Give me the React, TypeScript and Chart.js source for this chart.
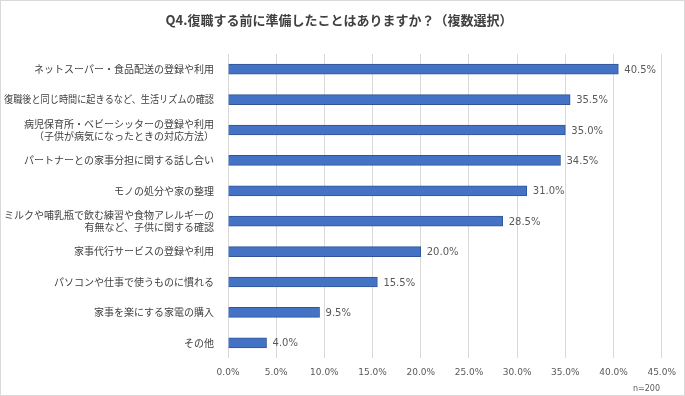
import React, { useEffect, useRef } from "react";
import { Chart, registerables } from "chart.js";

Chart.register(...registerables);

const TITLE = "Q4.復職する前に準備したことはありますか？（複数選択）";
const NOTE = "n=200";

const categories: (string | string[])[] = [
  "ネットスーパー・食品配送の登録や利用",
  "復職後と同じ時間に起きるなど、生活リズムの確認",
  ["病児保育所・ベビーシッターの登録や利用", "（子供が病気になったときの対応方法）"],
  "パートナーとの家事分担に関する話し合い",
  "モノの処分や家の整理",
  ["ミルクや哺乳瓶で飲む練習や食物アレルギーの", "有無など、子供に関する確認"],
  "家事代行サービスの登録や利用",
  "パソコンや仕事で使うものに慣れる",
  "家事を楽にする家電の購入",
  "その他",
];

const values: number[] = [40.5, 35.5, 35.0, 34.5, 31.0, 28.5, 20.0, 15.5, 9.5, 4.0];

const xMin = 0;
const xMax = 45;
const xStep = 5;

const JP = '"Noto Sans CJK JP", "Noto Sans", sans-serif';
const NUM = '"DejaVu Sans", sans-serif';

export default function App() {
  const ref = useRef<HTMLCanvasElement | null>(null);

  useEffect(() => {
    if (!ref.current) return;

    const decor = {
      id: "decor",
      afterLayout(chart: any) {
        const ys = chart.scales.y;
        if (ys && !ys.__patched) {
          ys.__patched = true;
          const orig = ys.drawLabels.bind(ys);
          ys.drawLabels = (area: any) => {
            const ctx = chart.ctx;
            const f = ctx.fillText;
            ctx.fillText = function (t: string, x: number, y: number, mw?: number) {
              const m = Math.min(mw == null ? Infinity : mw, 210);
              return f.call(this, t, x, y, m);
            };
            try {
              orig(area);
            } finally {
              ctx.fillText = f;
            }
          };
        }
      },
      beforeDraw(chart: any) {
        const { ctx, width, height } = chart;
        ctx.save();
        ctx.fillStyle = "#ffffff";
        ctx.fillRect(0, 0, width, height);
        ctx.restore();
      },
      afterDraw(chart: any) {
        const { ctx, width, height } = chart;
        ctx.save();
        ctx.strokeStyle = "#d9d9d9";
        ctx.lineWidth = 1;
        ctx.strokeRect(0.5, 0.5, width - 1, height - 1);
        ctx.fillStyle = "#404040";
        ctx.font = `bold 13px ${JP}`;
        ctx.textAlign = "center";
        ctx.textBaseline = "middle";
        ctx.fillText(TITLE, 339, 20);
        ctx.fillStyle = "#595959";
        ctx.font = `8px ${NUM}`;
        ctx.textAlign = "right";
        ctx.fillText(NOTE, 660, 389);
        ctx.restore();
      },
      afterDatasetsDraw(chart: any) {
        const { ctx } = chart;
        const meta = chart.getDatasetMeta(0);
        ctx.save();
        ctx.fillStyle = "#595959";
        ctx.font = `10px ${NUM}`;
        ctx.textAlign = "left";
        ctx.textBaseline = "middle";
        meta.data.forEach((el: any, i: number) => {
          ctx.fillText(values[i].toFixed(1) + "%", el.x + 6, el.y + 1);
        });
        ctx.restore();
      },
    };

    const chart = new Chart(ref.current, {
      type: "bar",
      data: {
        labels: categories,
        datasets: [
          {
            data: values,
            backgroundColor: "#4472c4",
            borderColor: "#2f5597",
            borderWidth: 1,
            barThickness: 10,
          },
        ],
      },
      options: {
        indexAxis: "y",
        responsive: false,
        animation: false,
        layout: { padding: { top: 54, left: 0, right: 20, bottom: 0 } },
        plugins: {
          legend: { display: false },
          title: { display: false },
          tooltip: { enabled: false },
        },
        scales: {
          x: {
            min: xMin,
            max: xMax,
            afterFit(scale: any) {
              scale.height = 38;
            },
            ticks: {
              stepSize: xStep,
              padding: 9,
              color: "#595959",
              font: { family: NUM, size: 9 },
              callback: (v: any) => Number(v).toFixed(1) + "%",
            },
            grid: { color: "#d9d9d9", drawTicks: false },
            border: { display: false },
          },
          y: {
            afterFit(scale: any) {
              scale.width = 228;
            },
            ticks: {
              padding: 6,
              color: "#404040",
              font: { family: JP, size: 10, lineHeight: 1.15 },
              autoSkip: false,
            },
            grid: { display: false },
            border: { display: false },
          },
        },
      },
      plugins: [decor],
    });

    return () => chart.destroy();
  }, []);

  return (
    <div style={{ position: "absolute", left: 0, top: 0, width: 685, height: 396 }}>
      <canvas ref={ref} width={685} height={396} style={{ display: "block" }} />
    </div>
  );
}
